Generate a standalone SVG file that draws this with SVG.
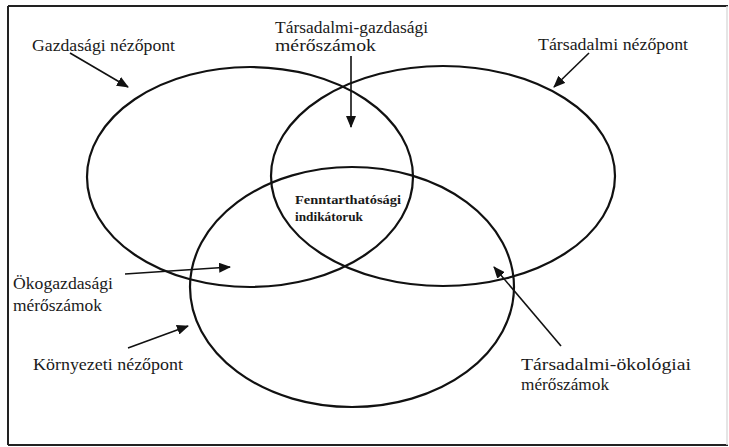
<svg xmlns="http://www.w3.org/2000/svg" width="729" height="447" viewBox="0 0 729 447">
<defs>
<style>
.frame{stroke:#222;stroke-width:2;fill:none}
.ell{fill:none;stroke:#111;stroke-width:2.2}
.arr{stroke:#111;stroke-width:1.6;fill:none;marker-end:url(#ah)}
.lbl{font-family:"Liberation Serif","Times New Roman",serif;font-size:16.5px;fill:#1a1a1a}
.core{font-family:"Liberation Serif","Times New Roman",serif;font-size:12.5px;font-weight:bold;fill:#1a1a1a}
</style>
<marker id="ah" viewBox="0 0 12 10" refX="11" refY="5" markerWidth="12" markerHeight="10" markerUnits="userSpaceOnUse" orient="auto">
<path d="M0,0 L12,5 L0,10 Z" fill="#111"/>
</marker>
</defs>
<rect x="0" y="0" width="729" height="447" fill="#fff"/>
<g id="frame">
<line class="frame" x1="8" y1="6" x2="728" y2="6"/>
<line class="frame" x1="8" y1="6" x2="8" y2="445"/>
<line class="frame" x1="8" y1="445" x2="728" y2="445"/>
<line x1="727" y1="6" x2="727" y2="445" stroke="#ddd" stroke-width="1.5"/>
</g>
<g id="gazdasagi">
<ellipse class="ell" cx="250" cy="177" rx="163" ry="110"/>
<text class="lbl" x="32" y="51" textLength="143" lengthAdjust="spacingAndGlyphs">Gazdasági nézőpont</text>
</g>
<g id="tarsadalmi">
<ellipse class="ell" cx="443" cy="176" rx="172" ry="110"/>
<text class="lbl" x="538" y="50" textLength="150" lengthAdjust="spacingAndGlyphs">Társadalmi nézőpont</text>
</g>
<g id="kornyezeti">
<ellipse class="ell" cx="352" cy="287" rx="162" ry="120"/>
<text class="lbl" x="33" y="370" textLength="150" lengthAdjust="spacingAndGlyphs">Környezeti nézőpont</text>
</g>
<g id="tarsadalmi-gazdasagi">
<text class="lbl" x="275" y="33" textLength="153" lengthAdjust="spacingAndGlyphs">Társadalmi-gazdasági</text>
<text class="lbl" x="275" y="51" textLength="101" lengthAdjust="spacingAndGlyphs">mérőszámok</text>
</g>
<g id="fenntarthatosagi">
<text class="core" x="295" y="204" textLength="106" lengthAdjust="spacingAndGlyphs">Fenntarthatósági</text>
<text class="core" x="295" y="221" textLength="68" lengthAdjust="spacingAndGlyphs">indikátoruk</text>
</g>
<g id="okogazdasagi">
<text class="lbl" x="13" y="289" textLength="100" lengthAdjust="spacingAndGlyphs">Ökogazdasági</text>
<text class="lbl" x="13" y="311" textLength="89" lengthAdjust="spacingAndGlyphs">mérőszámok</text>
</g>
<g id="tarsadalmi-okologiai">
<text class="lbl" x="521" y="370" textLength="170" lengthAdjust="spacingAndGlyphs">Társadalmi-ökológiai</text>
<text class="lbl" x="521" y="390" textLength="88" lengthAdjust="spacingAndGlyphs">mérőszámok</text>
</g>
<g id="connectors">
<line class="arr" x1="70" y1="53" x2="128" y2="87"/>
<line class="arr" x1="351" y1="56" x2="351" y2="127"/>
<line class="arr" x1="589" y1="53" x2="554" y2="87"/>
<line class="arr" x1="125" y1="274" x2="230" y2="267"/>
<line class="arr" x1="128" y1="348" x2="188" y2="326"/>
<line class="arr" x1="561" y1="346" x2="494" y2="267"/>
</g>
</svg>
